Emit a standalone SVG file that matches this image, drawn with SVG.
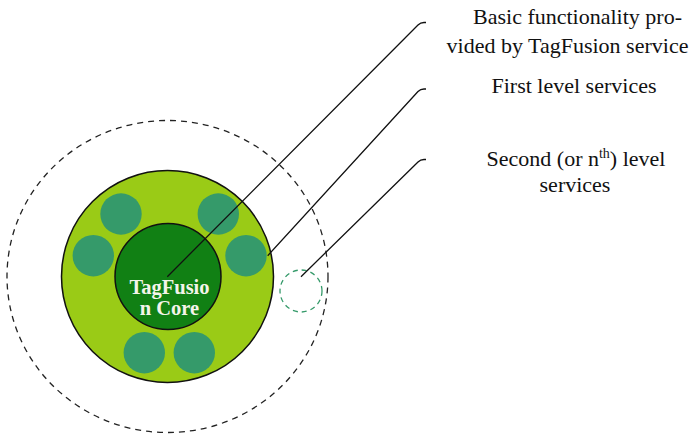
<svg xmlns="http://www.w3.org/2000/svg" width="693" height="434" viewBox="0 0 693 434">
<style>
.lbl{font-family:"Liberation Serif","Times New Roman",serif;font-size:22px;fill:#111;text-anchor:middle}
.core{font-family:"Liberation Serif","Times New Roman",serif;font-size:20.5px;font-weight:bold;fill:#f4f4ea;text-anchor:middle}
.svc{fill:#359a6a}
.lead{fill:none;stroke:#111;stroke-width:1.3}
</style>
<rect width="693" height="434" fill="#fff"/>
<g id="outer-ring">
<ellipse cx="167.5" cy="276.5" rx="160.5" ry="156" fill="none" stroke="#222" stroke-width="1.3" stroke-dasharray="6,5"/>
</g>
<g id="first-level">
<circle cx="167.5" cy="276.5" r="106" fill="#9acb16" stroke="#111" stroke-width="1.5"/>
</g>
<g id="services">
<circle class="svc" cx="121" cy="214" r="20.7"/>
<circle class="svc" cx="218.3" cy="214" r="20.7"/>
<circle class="svc" cx="93.3" cy="255.7" r="20.7"/>
<circle class="svc" cx="246" cy="255.7" r="20.7"/>
<circle class="svc" cx="144.3" cy="352.7" r="20.7"/>
<circle class="svc" cx="194.3" cy="352.7" r="20.7"/>
</g>
<g id="core">
<circle cx="168" cy="276.5" r="53" fill="#118014" stroke="#111" stroke-width="1.5"/>
<text class="core" x="169.5" y="294">TagFusio</text>
<text class="core" x="169.5" y="315">n Core</text>
</g>
<g id="second-level">
<circle cx="301" cy="291" r="21" fill="none" stroke="#359a6a" stroke-width="1.3" stroke-dasharray="5,4"/>
</g>
<g id="connectors">
<path class="lead" d="M167.3,276.7 L418,25 Q420.5,22.5 424,22.5 L426,22.5"/>
<path class="lead" d="M267.7,255.7 L418,91.5 Q420.5,89 424,89 L426,89"/>
<path class="lead" d="M301,276.7 L418,162 Q420.5,159.5 424,159.5 L426,159.5"/>
</g>
<g id="labels">
<text class="lbl" x="577.5" y="24">Basic functionality pro-</text>
<text class="lbl" x="567.5" y="53">vided by TagFusion service</text>
<text class="lbl" x="574" y="93">First level services</text>
<text class="lbl" x="576" y="166">Second (or n<tspan font-size="14" dy="-8">th</tspan><tspan dy="8">) level</tspan></text>
<text class="lbl" x="575" y="192">services</text>
</g>
</svg>
